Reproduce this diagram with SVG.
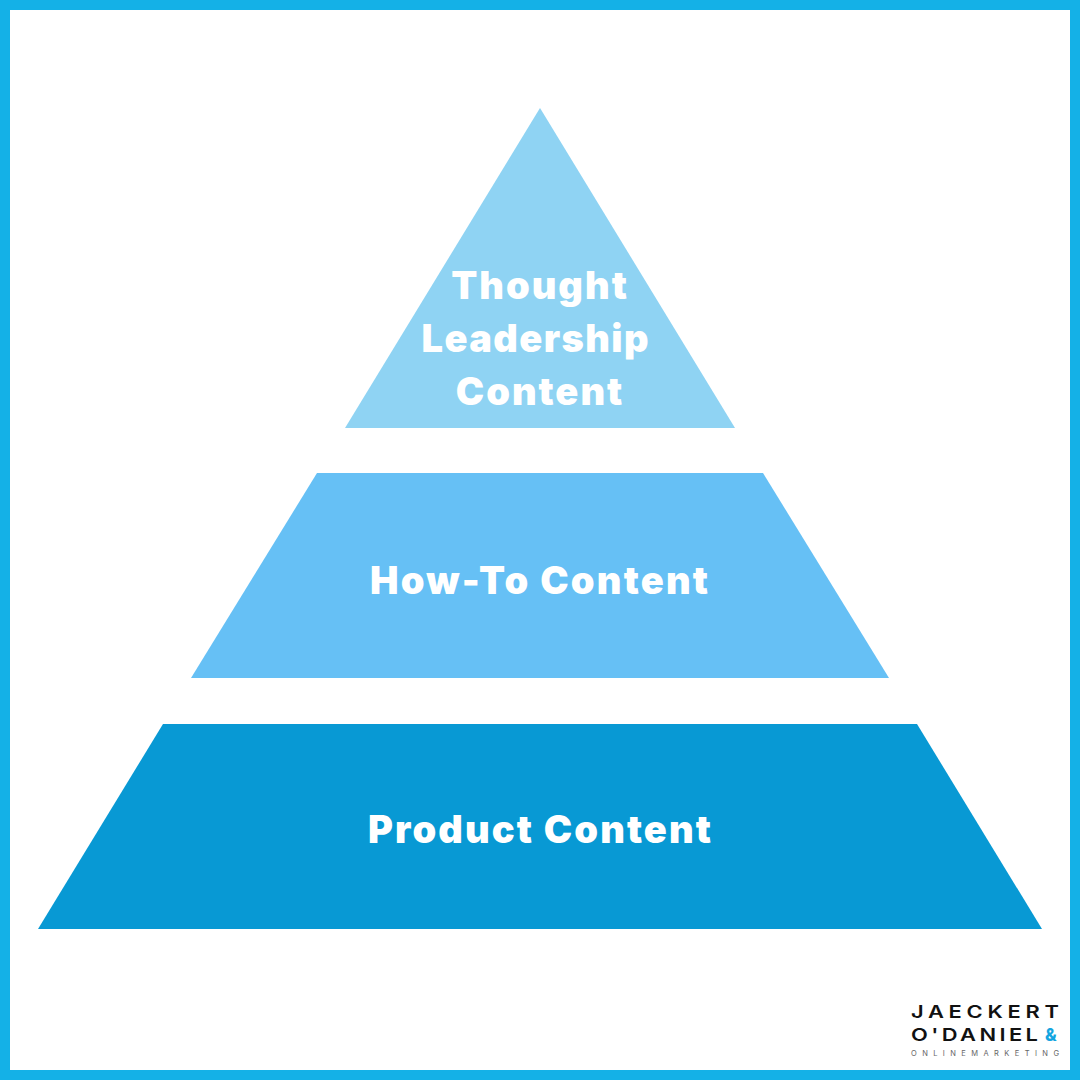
<svg xmlns="http://www.w3.org/2000/svg" width="1080" height="1080" viewBox="0 0 1080 1080">
<style>
.t{font-family:"Inter","Liberation Sans",sans-serif;font-weight:900;font-size:38px;fill:#fff;text-anchor:middle;letter-spacing:2px}
.l{font-family:"Inter","Liberation Sans",sans-serif;font-weight:600;font-size:17.5px;fill:#111}
</style>
<rect x="5" y="5" width="1070" height="1070" fill="#fff" stroke="#14b1e7" stroke-width="10"/>
<g id="top"><polygon points="540,108 735,428 345,428" fill="#8fd3f3"/><text class="t" x="540" y="299">Thought</text><text class="t" x="536" y="352" textLength="229" lengthAdjust="spacing">Leadership</text><text class="t" x="540" y="405">Content</text></g>
<g id="middle"><polygon points="317,473 763,473 889,678 191,678" fill="#66c0f5"/><text class="t" x="540" y="594" textLength="340" lengthAdjust="spacing">How-To Content</text></g>
<g id="bottom"><polygon points="163,724 917,724 1042,929 38,929" fill="#0899d4"/><text class="t" x="540.500" y="843" textLength="345" lengthAdjust="spacing">Product Content</text></g>
<g id="logo"><text class="l" transform="translate(911 1018) scale(1.25 1)" textLength="118.400" lengthAdjust="spacing">JAECKERT</text><text class="l" transform="translate(911 1041) scale(1.25 1)" textLength="101.600" lengthAdjust="spacing">O'DANIEL</text><text x="1045" y="1041" font-family="Inter,sans-serif" font-weight="800" font-size="17" fill="#14a5e0">&amp;</text><text x="911" y="1056" font-family="Inter,sans-serif" font-size="7.5" fill="#666" textLength="148" lengthAdjust="spacing">ONLINEMARKETING</text></g>
</svg>
